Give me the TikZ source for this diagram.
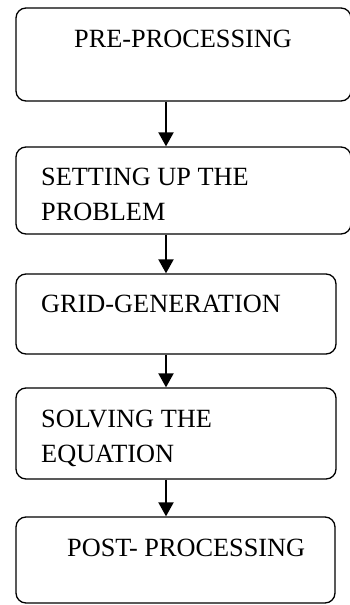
\documentclass[tikz,border=0pt]{standalone}
\usepackage{fontspec}
\setmainfont{Liberation Serif}
\usetikzlibrary{arrows.meta}
\begin{document}
\begin{tikzpicture}[x=1pt,y=-1pt,
  stepbox/.style={draw=black,line width=1.3pt,rounded corners=10pt,inner sep=0pt,fill=none},
  label text/.style={inner sep=0pt,anchor=base west,font=\fontsize{26.3}{35.5}\selectfont},
  arr/.style={line width=2pt,-{Triangle[width=15pt,length=14pt]}}]
\useasboundingbox (0,0) rectangle (350,605);
\fill[white] (0,0) rectangle (350,605);
\node[stepbox,minimum width=335pt,minimum height=93pt] (b1) at (183.5,54.5) {};
\node[stepbox,minimum width=335pt,minimum height=87pt] (b2) at (183.5,190.5) {};
\node[stepbox,minimum width=320pt,minimum height=80pt] (b3) at (176,314) {};
\node[stepbox,minimum width=320pt,minimum height=91pt] (b4) at (176,433.5) {};
\node[stepbox,minimum width=319pt,minimum height=86pt] (b5) at (175.5,560) {};
\node[label text] (t1) at (74,47) {PRE-PROCESSING};
\node[label text] (t2) at (41,185) {\vtop{\hbox{SETTING UP THE}\hbox{PROBLEM}}};
\node[label text] (t3) at (41,312) {GRID-GENERATION};
\node[label text] (t4) at (41,427) {\vtop{\hbox{SOLVING THE}\hbox{EQUATION}}};
\node[label text] (t5) at (67,556) {POST- PROCESSING};
\coordinate (ax) at (166,0);
\draw[arr] (b1.south -| ax) -- (b2.north -| ax);
\draw[arr] (b2.south -| ax) -- (b3.north -| ax);
\draw[arr] (b3.south -| ax) -- (b4.north -| ax);
\draw[arr] (b4.south -| ax) -- (b5.north -| ax);
\end{tikzpicture}
\end{document}
